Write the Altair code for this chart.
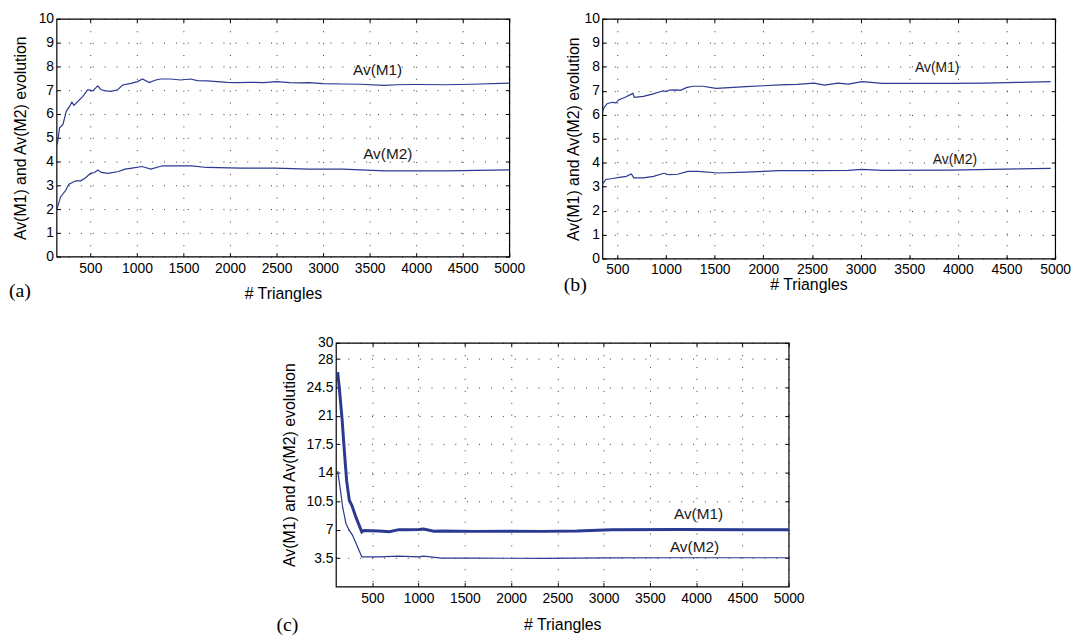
import altair as alt
import pandas as pd

FONT = "Liberation Sans"
SERIF = "Liberation Serif"
LINE_COLOR = "#2b3990"

X_TICKS = [500, 1000, 1500, 2000, 2500, 3000, 3500, 4000, 4500, 5000]
Y_TICKS_AB = [0, 1, 2, 3, 4, 5, 6, 7, 8, 9, 10]
Y_TICKS_C = [3.5, 7, 10.5, 14, 17.5, 21, 24.5, 28, 30]
LABELS = ["Av(M1)", "Av(M2)"]

# ---- panel (a) ----
A_M1_X = [144, 169, 205, 240, 276, 301, 323, 365, 419, 472, 526, 579, 614, 668, 721, 793, 846, 935,
          1006, 1060, 1130, 1202, 1255, 1362, 1469, 1576, 1647, 1754, 1861, 1968, 2075, 2217, 2360,
          2502, 2641, 2751, 2849, 3000, 3215, 3400, 3654, 3800, 4000, 4313, 4600, 5000]
A_M1_Y = [4.72, 5.42, 5.56, 6.11, 6.32, 6.5, 6.36, 6.53, 6.74, 7.02, 6.97, 7.18, 7.02, 6.97, 6.95, 7.02,
          7.22, 7.29, 7.36, 7.47, 7.32, 7.43, 7.47, 7.47, 7.43, 7.47, 7.40, 7.39, 7.36, 7.33, 7.32, 7.33,
          7.32, 7.36, 7.32, 7.31, 7.32, 7.28, 7.26, 7.25, 7.2, 7.23, 7.24, 7.23, 7.25, 7.3]
A_M2_X = [141, 178, 233, 269, 306, 343, 397, 452, 500, 544, 580, 617, 690, 800, 873, 946, 1056, 1148,
          1275, 1458, 1587, 1751, 2117, 2483, 2849, 3215, 3654, 4313, 5000]
A_M2_Y = [2.01, 2.5, 2.78, 3.05, 3.12, 3.19, 3.19, 3.33, 3.5, 3.54, 3.64, 3.54, 3.5, 3.58, 3.68, 3.72,
          3.79, 3.68, 3.82, 3.82, 3.82, 3.75, 3.72, 3.72, 3.68, 3.68, 3.61, 3.61, 3.65]
A_LABEL_X = [3585, 3694]
A_LABEL_Y = [7.85, 4.32]

# ---- panel (b) ----
B_M1_X = [346, 363, 394, 445, 486, 512, 580, 649, 659, 672, 767, 869, 970, 1000, 1037, 1107, 1150,
          1209, 1276, 1378, 1514, 1650, 1821, 1996, 2172, 2350, 2523, 2629, 2769, 2874, 3015, 3226,
          3577, 3928, 4279, 4631, 4954]
B_M1_Y = [6.1, 6.3, 6.46, 6.52, 6.5, 6.62, 6.73, 6.87, 6.9, 6.73, 6.77, 6.87, 7.0, 6.97, 7.03, 7.04,
          7.02, 7.13, 7.19, 7.19, 7.1, 7.13, 7.17, 7.21, 7.25, 7.27, 7.32, 7.24, 7.32, 7.28, 7.38, 7.31,
          7.31, 7.31, 7.32, 7.35, 7.38]
B_M2_X = [346, 381, 451, 521, 591, 644, 669, 767, 872, 978, 1030, 1118, 1224, 1329, 1540, 1821, 2172,
          2523, 2874, 3015, 3226, 3928, 4631, 4954]
B_M2_Y = [3.09, 3.3, 3.34, 3.39, 3.43, 3.53, 3.37, 3.37, 3.43, 3.56, 3.5, 3.52, 3.64, 3.64, 3.57, 3.61,
          3.67, 3.67, 3.68, 3.72, 3.68, 3.69, 3.74, 3.76]
B_LABEL_X = [3788, 3970]
B_LABEL_Y = [7.93, 4.13]

# ---- panel (c) ----
C_M1_X = [125, 143, 172, 197, 222, 251, 279, 322, 386, 411, 572, 684, 786, 869, 1000, 1053, 1164, 1250,
          1607, 1975, 2344, 2713, 3082, 3820, 4557, 5000]
C_M1_Y = [26.4, 24.4, 20.7, 16.7, 13.0, 10.6, 9.96, 8.54, 6.71, 6.91, 6.83, 6.75, 7.0, 7.0, 7.03, 7.07,
          6.8, 6.83, 6.79, 6.8, 6.79, 6.83, 7.0, 7.03, 7.0, 7.0]
C_M2_X = [125, 151, 179, 215, 251, 286, 386, 572, 786, 1000, 1053, 1250, 1607, 2000, 2344, 3000, 3820,
          4557, 5000]
C_M2_Y = [14.2, 12.2, 9.76, 7.73, 6.91, 6.3, 3.66, 3.66, 3.74, 3.66, 3.74, 3.5, 3.5, 3.48, 3.47, 3.52,
          3.54, 3.54, 3.54]
C_LABEL_X = [4026, 3982]
C_LABEL_Y = [8.94, 4.88]


def panel(m1x, m1y, m2x, m2y, lx, ly, xdom, ydom, yticks, w, h, m1w, m2w,
          tag, tag_dx, tag_dy, ytp, xtp, xlp, label_size, title_x=None):
    d1 = pd.DataFrame({"x": m1x, "y": m1y})
    d2 = pd.DataFrame({"x": m2x, "y": m2y})
    dl = pd.DataFrame({"x": lx, "y": ly, "t": LABELS})
    xs = alt.Scale(domain=xdom, nice=False, zero=False)
    ys = alt.Scale(domain=ydom, nice=False, zero=False)
    xk = dict(values=X_TICKS, labelExpr="datum.value + ''", title="# Triangles", grid=True,
              domain=False, ticks=True, tickSize=4, offset=-4, labelPadding=xlp,
              titlePadding=xtp, labelFlush=False, labelOverlap=False)
    if title_x is not None:
        xk["titleX"] = title_x
    l1 = alt.Chart(d1).mark_line(color=LINE_COLOR, strokeWidth=m1w).encode(
        x=alt.X("x:Q", scale=xs, axis=alt.Axis(**xk)),
        y=alt.Y("y:Q", scale=ys, axis=alt.Axis(
            values=yticks, labelExpr="datum.value + ''", title="Av(M1) and Av(M2) evolution",
            grid=True, domain=False, ticks=True, tickSize=4, offset=-4, labelPadding=3,
            titlePadding=ytp, labelFlush=False, labelOverlap=False)),
    )
    l2 = alt.Chart(d2).mark_line(color=LINE_COLOR, strokeWidth=m2w).encode(
        x=alt.X("x:Q", axis=None),
        y=alt.Y("y:Q", axis=None),
    )
    tx = alt.Chart(dl).mark_text(font=FONT, fontSize=label_size, color="#1a1a1a").encode(
        x=alt.X("x:Q", axis=alt.Axis(orient="top", values=X_TICKS, labels=False, title=None,
                                     grid=False, domain=False, ticks=True, tickSize=4, offset=-4)),
        y=alt.Y("y:Q", axis=alt.Axis(orient="right", values=yticks, labels=False, title=None,
                                     grid=False, domain=False, ticks=True, tickSize=4, offset=-4)),
        text="t:N",
    )
    return alt.layer(l1, l2, tx).resolve_axis(x="independent", y="independent").properties(
        width=w, height=h,
        title=alt.TitleParams(text=tag, orient="bottom", anchor="start", frame="group",
                              font=SERIF, fontSize=20, fontWeight="normal", color="black",
                              baseline="middle", offset=0, dx=tag_dx, dy=tag_dy),
    )


def spacer(w):
    return alt.Chart(pd.DataFrame({"s": [0]})).mark_point(opacity=0, size=1).encode(
        x=alt.value(1), y=alt.value(0.5)
    ).properties(width=w, height=1, view=alt.ViewBackground(strokeOpacity=0))


pa = panel(A_M1_X, A_M1_Y, A_M2_X, A_M2_Y, A_LABEL_X, A_LABEL_Y, [136, 5000], [0, 10], Y_TICKS_AB,
           457, 240, 1.2, 1.2, "(a)", -48, -10, 10, 10, 5, 15.5)
pb = panel(B_M1_X, B_M1_Y, B_M2_X, B_M2_Y, B_LABEL_X, B_LABEL_Y, [346, 5000], [0, 10], Y_TICKS_AB,
           457, 242, 1.2, 1.2, "(b)", -39, -7, 2.5, 0, 4, 14, title_x=208)
pc = panel(C_M1_X, C_M1_Y, C_M2_X, C_M2_Y, C_LABEL_X, C_LABEL_Y, [106, 5000], [0, 30], Y_TICKS_C,
           457, 246, 3, 1.2, "(c)", -60, -7, 9, 11, 5, 15.5)

row1 = alt.hconcat(pa, pb, spacing=37)
row2 = alt.hconcat(spacer(220.5), pc, spacing=0)
chart = alt.vconcat(row1, row2, spacing=33).properties(
    padding=0, background="white"
).configure_view(
    stroke="black", strokeWidth=1.2
).configure_axis(
    gridColor="black", gridDash=[1, 11], gridOpacity=0.8, gridWidth=1,
    labelFont=FONT, labelFontSize=14, labelColor="black",
    titleFont=FONT, titleFontSize=16, titleFontWeight="normal", titleColor="black",
    tickColor="black", tickWidth=1,
)

chart.save("out.html", embed_options={"renderer": "svg", "actions": False})
